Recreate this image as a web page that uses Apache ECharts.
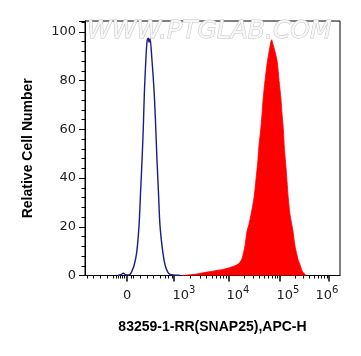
<!DOCTYPE html>
<html>
<head>
<meta charset="utf-8">
<script src="https://cdn.jsdelivr.net/npm/echarts@6/dist/echarts.min.js"></script>
<style>
  html, body { margin: 0; padding: 0; background: #fff; }
  #chart { width: 361px; height: 356px; }
</style>
</head>
<body>
<div id="chart"></div>
<script>
// x is in display channels (0-1000) of the biexponential APC-H scale
const xMajorTicks = [165, 349, 562, 765, 957];
const xLabelPos = [165, 388, 600, 796, 949];
const xLabels = ['0', '10{sup|3}', '10{sup|4}', '10{sup|5}', '10{sup|6}'];
const xLinearMinor = [8, 31, 59, 86, 110, 122, 129, 137, 145, 153, 180, 188, 216, 243, 267, 294, 314, 325, 341];

// isotype control (blue outline)
const ctrlChannel = [129, 141, 150, 159, 169, 177, 184, 193, 203, 212, 218, 224, 229, 233, 239, 244, 248, 251, 255,
    262, 271, 277, 282, 288, 294, 305, 314, 324, 333, 345, 365, 373];
const ctrlCount = [0, 0.3, 0.9, 0.3, 0.2, 0.5, 1.8, 4.3, 9.7, 20.7, 34.4, 48.2, 61.9, 75.6, 89.3, 96.8, 97.4, 95.8, 97.2,
    89.3, 75.6, 61.9, 48.2, 34.4, 20.7, 9.7, 4.3, 1.5, 0.5, 0.2, 0.1, 0];

// 83259-1-RR (SNAP25) stained (red filled)
const snapChannel = [379, 431, 484, 536, 553, 575, 588, 600, 608, 616, 622, 628, 635, 643, 651, 663, 671, 677, 682, 689,
    694, 699, 706, 715, 722, 728, 732, 737, 745, 754, 761, 768, 773, 778, 782, 787, 792, 797, 804, 815, 824, 830, 837,
    843, 849, 856, 863, 869];
const snapCount = [0, 0.5, 1.5, 2.4, 2.8, 3.5, 4.0, 4.6, 5.5, 7, 9.5, 12.5, 18, 21, 25, 32, 40, 46, 53, 59.8,
    66, 73, 80, 87.6, 92, 95.5, 96.8, 95, 92, 87.6, 80, 73, 66, 59.8, 52, 46, 39, 32, 25, 18.6, 11.8,
    9, 6, 4.5, 2.5, 1.2, 0.4, 0];

const yTicks = [0, 20, 40, 60, 80, 100];

// log minor ticks between decades
let xLogMinor = [];
for (let i = 1; i < xMajorTicks.length - 1; i++) {
    let a = xMajorTicks[i], b = xMajorTicks[i + 1];
    for (let k = 2; k <= 9; k++) xLogMinor.push(a + (b - a) * Math.log10(k));
}

const zip = (xs, ys) => xs.map((x, i) => [x, ys[i]]);

const chart = echarts.init(document.getElementById('chart'));
chart.setOption({
    animation: false,
    title: {
        text: 'WWW.PTGLAB.COM',
        left: 87,
        top: 19,
        padding: 0,
        z: 1,
        textStyle: {
            fontFamily: 'DejaVu Sans',
            fontSize: 25,
            fontStyle: 'italic',
            fontWeight: 'normal',
            color: '#f7f7f7',
            textBorderColor: '#c4c4c4',
            textBorderWidth: 1
        }
    },
    grid: {
        left: 85, right: 21, top: 21, bottom: 80.5,
        show: true, borderColor: '#000', borderWidth: 1, backgroundColor: 'transparent'
    },
    xAxis: [{
        type: 'value',
        min: 0, max: 1000,
        name: '83259-1-RR(SNAP25),APC-H',
        nameLocation: 'middle',
        nameGap: 45,
        nameTextStyle: { fontFamily: 'Liberation Sans', fontSize: 14, fontWeight: 'bold', color: '#000' },
        axisLine: { show: true, lineStyle: { color: '#000', width: 1 } },
        axisTick: { show: true, length: 6, customValues: xMajorTicks, lineStyle: { color: '#000', width: 1.5 } },
        splitLine: { show: false },
        axisLabel: {
            customValues: xLabelPos,
            margin: 10,
            formatter: v => xLabels[xLabelPos.indexOf(v)] || '',
            rich: {
                base: { fontFamily: 'DejaVu Sans', fontSize: 13, color: '#222', lineHeight: 20, verticalAlign: 'bottom' },
                sup: { fontFamily: 'DejaVu Sans', fontSize: 10, color: '#222', lineHeight: 20, verticalAlign: 'top' }
            },
            fontFamily: 'DejaVu Sans', fontSize: 13, color: '#222', lineHeight: 20
        }
    }, {
        type: 'value',
        min: 0, max: 1000,
        position: 'bottom',
        axisLine: { show: false },
        axisTick: { show: true, length: 3, customValues: xLinearMinor.concat(xLogMinor), lineStyle: { color: '#000', width: 1 } },
        axisLabel: { show: false },
        splitLine: { show: false }
    }],
    yAxis: {
        type: 'value',
        min: 0, max: 104.5, interval: 20,
        name: 'Relative Cell Number',
        nameLocation: 'middle',
        nameGap: 50,
        nameTextStyle: { fontFamily: 'Liberation Sans', fontSize: 14, fontWeight: 'bold', color: '#000' },
        axisLine: { show: true, lineStyle: { color: '#000', width: 1 } },
        axisTick: { show: true, length: 6, lineStyle: { color: '#000' } },
        minorTick: { show: true, splitNumber: 5, length: 3.5, lineStyle: { color: '#000' } },
        splitLine: { show: false },
        minorSplitLine: { show: false },
        axisLabel: { fontFamily: 'DejaVu Sans', fontSize: 13, color: '#222', margin: 9 }
    },
    series: [{
        name: 'SNAP25',
        type: 'line',
        data: zip(snapChannel, snapCount),
        smooth: 0.3,
        symbol: 'none',
        lineStyle: { color: '#ff0000', width: 0.8 },
        areaStyle: { color: '#ff0000', opacity: 1 },
        z: 2
    }, {
        name: 'Control',
        type: 'line',
        data: zip(ctrlChannel, ctrlCount),
        smooth: 0.3,
        symbol: 'none',
        lineStyle: { color: '#1a1a8c', width: 1.4 },
        z: 3
    }]
});
</script>
</body>
</html>
